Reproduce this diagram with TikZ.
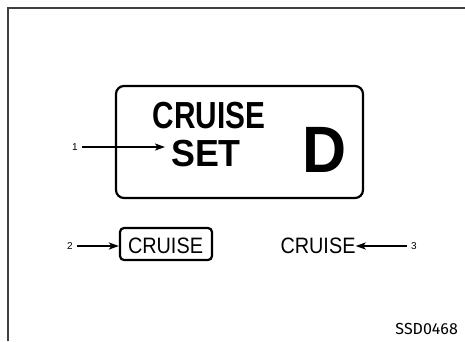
\documentclass[tikz,border=0pt]{standalone}
\usepackage{fontspec}
\setmainfont{Liberation Sans}
\newfontfamily\firafont{Fira Sans}
\usetikzlibrary{arrows.meta}
\begin{document}
\begin{tikzpicture}[x=1pt,y=-1pt,
  txt/.style={inner sep=0pt,anchor=base},
  lbl/.style={inner sep=0pt,font=\fontsize{10}{10}\selectfont},
  panel/.style={draw,line width=2.2pt,rounded corners=8pt},
  smallpanel/.style={draw,line width=2.2pt,rounded corners=4pt},
  pointer/.style={line width=2pt,-{Stealth[length=10pt,width=7pt,inset=2.5pt]}}]
\useasboundingbox (0,0) rectangle (465,341);
\draw[line width=1.2pt,black!75] (8,341) -- (8,8) -- (465,8);
% main panel
\draw[panel] (116,86) rectangle (363,198);
\node[txt] (cs) at (209,128) {\fontsize{37.7}{38}\selectfont\bfseries\scalebox{0.79}[1]{CRUISE}};
\node[txt] (set) at (206,166) {\fontsize{37.7}{38}\selectfont\bfseries\scalebox{0.95}[1]{SET}};
\node[txt] (d) at (325,172) {\fontsize{65.6}{66}\selectfont\bfseries\scalebox{0.93}[1]{D}};
\node[lbl] (l1) at (75,147) {1};
\coordinate (t1) at (165,147);
\draw[pointer] ([xshift=4pt]l1.east) -- (t1);
% item 2
\node[smallpanel,minimum width=92pt,minimum height=32pt,inner sep=0pt] (b2) at (166,244) {};
\node[txt] (c2) at (165.5,253) {\fontsize{22.3}{23}\selectfont\scalebox{0.89}[1]{CRUISE}};
\node[lbl] (l2) at (70,246) {2};
\draw[pointer] ([xshift=4pt]l2.east) -- (b2.west |- l2.east);
% item 3
\node[txt] (c3) at (318,253) {\fontsize{22.3}{23}\selectfont\scalebox{0.89}[1]{CRUISE}};
\node[lbl] (l3) at (414,246) {3};
\draw[pointer] ([xshift=-4pt]l3.west) -- (c3.east |- l3.west);
% code
\node[inner sep=0pt,anchor=base east] (code) at (458,334) {\firafont\fontsize{16}{16}\selectfont SSD0468};
\end{tikzpicture}
\end{document}
